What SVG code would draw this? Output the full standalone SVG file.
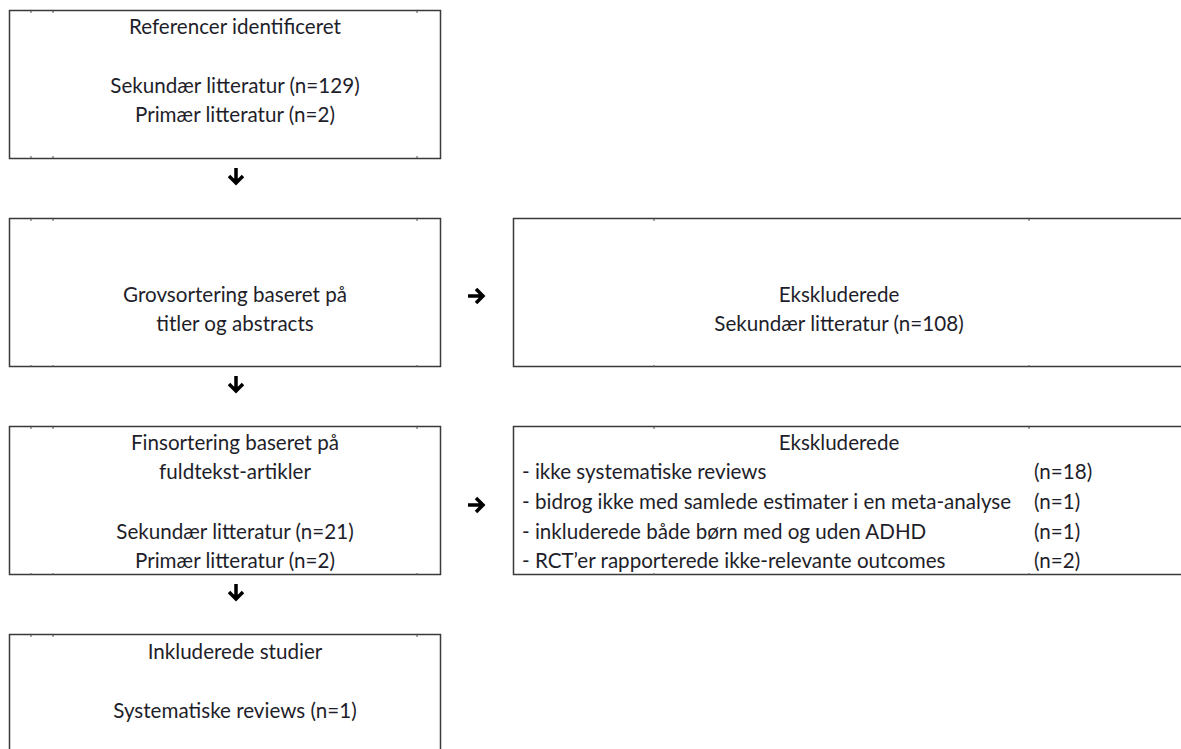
<svg xmlns="http://www.w3.org/2000/svg" width="1181" height="749" viewBox="0 0 1181 749">
<style>
.box{fill:#fff;stroke:#3a3a3a;stroke-width:1.5}
.tick{stroke:#555;stroke-width:1}
text{font-family:Lato,"Open Sans",sans-serif;font-size:20.6px;fill:#1e1e2a}
.c{text-anchor:middle}
.arr{fill:none;stroke:#000;stroke-width:3.5;stroke-linecap:butt;stroke-linejoin:miter}
</style>
<rect width="1181" height="749" fill="#fff"/>
<g id="n1">
<rect class="box" x="9.5" y="10.5" width="431" height="148"/>
<path class="tick" d="M31 11v2M53 11v2M417 11v2M31 158v-2M53 158v-2M417 158v-2"/>
<text class="c" x="235" y="34">Referencer identificeret</text>
<text class="c" x="235" y="93">Sekundær litteratur (n=129)</text>
<text class="c" x="235" y="122">Primær litteratur (n=2)</text>
</g>
<g id="n2">
<rect class="box" x="9.5" y="218.5" width="431" height="148"/>
<path class="tick" d="M31 219v2M53 219v2M417 219v2M31 367v-2M53 367v-2M417 367v-2"/>
<text class="c" x="235" y="302">Grovsortering baseret på</text>
<text class="c" x="235" y="331">titler og abstracts</text>
</g>
<g id="n3">
<rect class="box" x="513.5" y="218.5" width="690" height="148"/>
<path class="tick" d="M654 219v2M1029 219v2M654 367v-2M1029 367v-2"/>
<text class="c" x="839" y="302">Ekskluderede</text>
<text class="c" x="839" y="331">Sekundær litteratur (n=108)</text>
</g>
<g id="n4">
<rect class="box" x="9.5" y="426.5" width="431" height="148"/>
<path class="tick" d="M31 427v2M53 427v2M417 427v2M31 575v-2M53 575v-2M417 575v-2"/>
<text class="c" x="235" y="450">Finsortering baseret på</text>
<text class="c" x="235" y="479">fuldtekst-artikler</text>
<text class="c" x="235" y="539">Sekundær litteratur (n=21)</text>
<text class="c" x="235" y="568">Primær litteratur (n=2)</text>
</g>
<g id="n5">
<rect class="box" x="513.5" y="426.5" width="690" height="148"/>
<path class="tick" d="M654 427v2M1029 427v2M654 575v-2M1029 575v-2"/>
<text class="c" x="839" y="450">Ekskluderede</text>
<text x="522" y="479">- ikke systematiske reviews</text>
<text x="1034" y="479">(n=18)</text>
<text x="522" y="509">- bidrog ikke med samlede estimater i en meta-analyse</text>
<text x="1034" y="509">(n=1)</text>
<text x="522" y="539">- inkluderede både børn med og uden ADHD</text>
<text x="1034" y="539">(n=1)</text>
<text x="522" y="568">- RCT’er rapporterede ikke-relevante outcomes</text>
<text x="1034" y="568">(n=2)</text>
</g>
<g id="n6">
<rect class="box" x="9.5" y="634.5" width="431" height="130"/>
<path class="tick" d="M31 635v2M53 635v2M417 635v2"/>
<text class="c" x="235" y="659">Inkluderede studier</text>
<text class="c" x="235" y="718">Systematiske reviews (n=1)</text>
</g>
<g id="connectors">
<path class="arr" d="M236 168v15M229 176l7 7 7-7"/>
<path class="arr" d="M236 376v15M229 384l7 7 7-7"/>
<path class="arr" d="M236 584v15M229 592l7 7 7-7"/>
<path class="arr" d="M468 296h15M476 289l7 7-7 7"/>
<path class="arr" d="M468 505h15M476 498l7 7-7 7"/>
</g>
</svg>
